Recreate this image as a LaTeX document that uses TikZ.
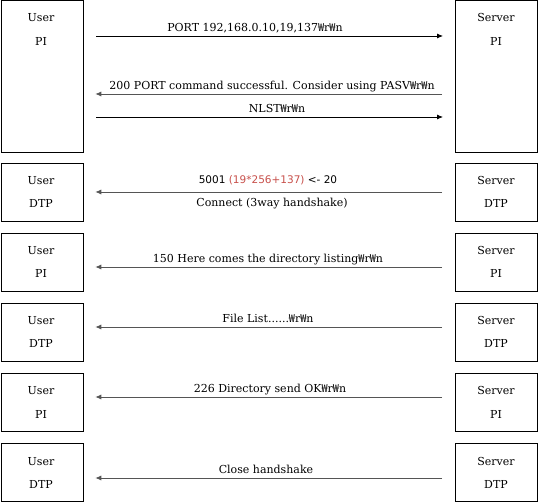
\documentclass[tikz,border=0pt]{standalone}
\usepackage{fontspec}
\setmainfont{DejaVu Serif}
\newfontfamily\numfont{DejaVu Sans}
\newfontfamily\wonfont{Noto Sans CJK KR}
\newcommand\wonsign{{\wonfont ₩}}
\usetikzlibrary{arrows.meta}
\definecolor{redtxt}{HTML}{C8504B}
\definecolor{linegray}{HTML}{555555}
\begin{document}
\begin{tikzpicture}[x=1pt,y=-1pt,
  box/.style={draw, line width=0.8pt, minimum width=82pt, minimum height=58pt, anchor=north west, inner sep=0pt},
  lbl/.style={font=\fontsize{11}{13}\selectfont, inner sep=0pt, anchor=base},
  msg/.style={-{Latex[length=6pt,width=5pt]}, line width=0.8pt, shorten <=13pt, shorten >=12pt},
  back/.style={msg, draw=linegray},
  mtxt/.style={font=\fontsize{11}{13}\selectfont, inner sep=0pt, anchor=base}]
\useasboundingbox (0,0) rectangle (538,502);
\fill[white] (0,0) rectangle (538,502);
% boxes
\node[box, minimum height=151.5pt] (uPI1) at (0.5,0.5) {};
\node[box, minimum height=151.5pt] (sPI1) at (455,0.5) {};
\node[box] (uDTP2) at (0.5,163) {};
\node[box] (sDTP2) at (455,163) {};
\node[box] (uPI3) at (0.5,233) {};
\node[box] (sPI3) at (455,233) {};
\node[box] (uDTP4) at (0.5,303) {};
\node[box] (sDTP4) at (455,303) {};
\node[box] (uPI5) at (0.5,373) {};
\node[box] (sPI5) at (455,373) {};
\node[box] (uDTP6) at (0.5,443) {};
\node[box] (sDTP6) at (455,443) {};
% box labels
\foreach \t/\nm in {0/1,163/2,233/3,303/4,373/5,443/6}{
  \node[lbl] (ua\nm) at (41,\t+22) {User};
  \node[lbl] (sa\nm) at (496,\t+22) {Server};
}
\node[lbl] (ub1) at (41,46) {PI};
\node[lbl] (sb1) at (496,46) {PI};
\node[lbl] (ub2) at (41,208) {DTP};
\node[lbl] (sb2) at (496,208) {DTP};
\node[lbl] (ub3) at (41,278) {PI};
\node[lbl] (sb3) at (496,278) {PI};
\node[lbl] (ub4) at (41,348) {DTP};
\node[lbl] (sb4) at (496,348) {DTP};
\node[lbl] (ub5) at (41,418) {PI};
\node[lbl] (sb5) at (496,418) {PI};
\node[lbl] (ub6) at (41,488) {DTP};
\node[lbl] (sb6) at (496,488) {DTP};
% messages
\draw[msg] (uPI1.east |- 0,36) -- (sPI1.west |- 0,36);
\node[mtxt] (t1) at (255,32) {PORT 192,168.0.10,19,137\wonsign r\wonsign n};
\draw[back] (sPI1.west |- 0,94) -- (uPI1.east |- 0,94);
\node[mtxt] (t2) at (272,90) {200 PORT command successful. Consider using PASV\wonsign r\wonsign n};
\draw[msg] (uPI1.east |- 0,117) -- (sPI1.west |- 0,117);
\node[mtxt] (t3) at (277,113) {NLST\wonsign r\wonsign n};
\draw[back] (sDTP2.west |- 0,192) -- (uDTP2.east |- 0,192);
\node[mtxt, font=\numfont\fontsize{10.5}{12}\selectfont] (t4) at (268,184) {5001 \textcolor{redtxt}{(19*256+137)} <- 20};
\node[mtxt] (t5) at (272,207) {Connect (3way handshake)};
\draw[back] (sPI3.west |- 0,267) -- (uPI3.east |- 0,267);
\node[mtxt] (t6) at (268,263) {150 Here comes the directory listing\wonsign r\wonsign n};
\draw[back] (sDTP4.west |- 0,327) -- (uDTP4.east |- 0,327);
\node[mtxt] (t7) at (268,323) {File List......\wonsign r\wonsign n};
\draw[back] (sPI5.west |- 0,397) -- (uPI5.east |- 0,397);
\node[mtxt] (t8) at (270,392) {226 Directory send OK\wonsign r\wonsign n};
\draw[back] (sDTP6.west |- 0,478) -- (uDTP6.east |- 0,478);
\node[mtxt] (t9) at (266,473) {Close handshake};
\end{tikzpicture}
\end{document}
